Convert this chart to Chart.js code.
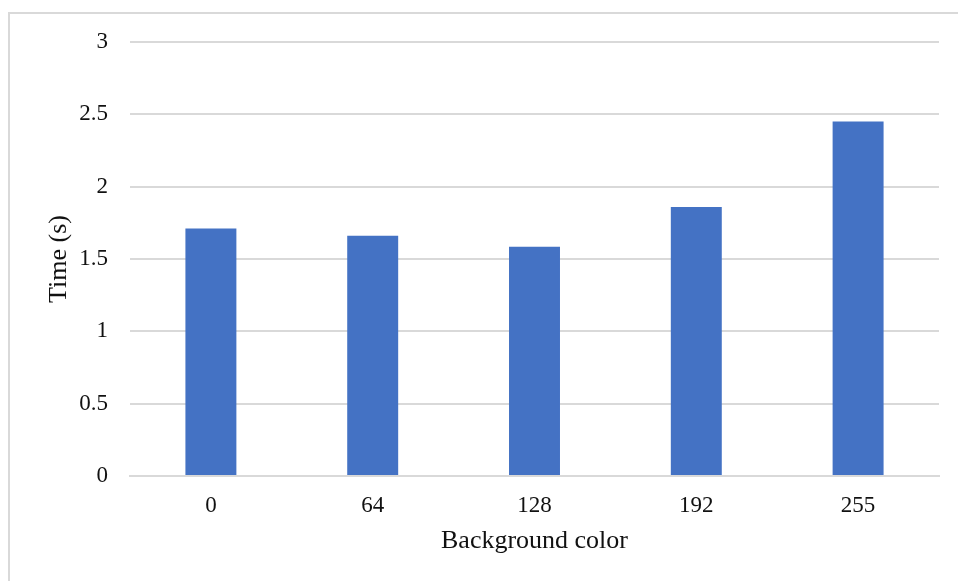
<!DOCTYPE html>
<html>
<head>
<meta charset="utf-8">
<script src="https://cdn.jsdelivr.net/npm/chart.js@4/dist/chart.umd.min.js"></script>
<style>
  html, body { margin: 0; padding: 0; background: #fff; }
  #wrap { position: relative; width: 958px; height: 581px; overflow: hidden; }
  #frame { position: absolute; left: 8px; top: 12px; width: 1000px; height: 700px;
           border-left: 2px solid #d9d9d9; border-top: 2px solid #d9d9d9; }
  canvas { position: absolute; left: 0; top: 0; }
</style>
</head>
<body>
<div id="wrap">
  <div id="frame"></div>
  <canvas id="c" width="958" height="581"></canvas>
</div>
<script>
// Background colour levels and the measured time for each
const categories = ['0', '64', '128', '192', '255'];
const timeSeconds = [1.71, 1.66, 1.585, 1.86, 2.45];
const yTicks = [0, 0.5, 1, 1.5, 2, 2.5, 3];

const serif = '"Liberation Serif", "Times New Roman", serif';

new Chart(document.getElementById('c'), {
  type: 'bar',
  data: {
    labels: categories,
    datasets: [{
      data: timeSeconds,
      backgroundColor: '#4472C4',
      borderWidth: 0,
      categoryPercentage: 1,
      barPercentage: 0.315
    }]
  },
  options: {
    responsive: false,
    animation: false,
    layout: { padding: { left: 0, right: 19, top: 42, bottom: 0 } },
    plugins: { legend: { display: false }, tooltip: { enabled: false } },
    scales: {
      x: {
        grid: { display: false, drawTicks: false },
        border: { display: true, color: '#d9d9d9', width: 2 },
        ticks: { color: '#111', font: { family: serif, size: 23 }, padding: 16 },
        title: {
          display: true, text: 'Background color', color: '#111',
          font: { family: serif, size: 26 }, padding: { top: 0, bottom: 24 }
        },
        afterFit(scale) { scale.height = 105; }
      },
      y: {
        min: 0, max: 3,
        afterBuildTicks(scale) { scale.ticks = yTicks.map(v => ({ value: v })); },
        grid: { color: '#d9d9d9', lineWidth: 2, drawTicks: false },
        border: { display: false },
        ticks: {
          color: '#111', font: { family: serif, size: 23 }, padding: 22,
          callback: (v) => String(v)
        },
        title: {
          display: true, text: 'Time (s)', color: '#111',
          font: { family: serif, size: 26 }, padding: { top: 44, bottom: 0 }
        },
        afterFit(scale) { scale.width = 130; }
      }
    }
  }
});
</script>
</body>
</html>
